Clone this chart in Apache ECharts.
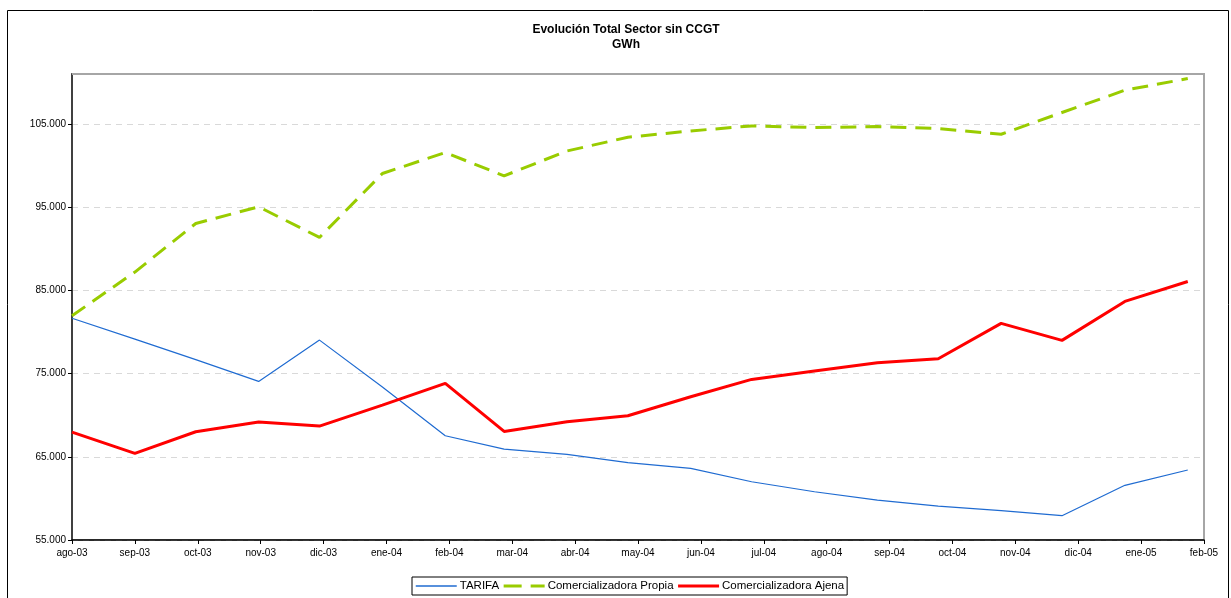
<!DOCTYPE html>
<html>
<head>
<meta charset="utf-8">
<script src="https://cdn.jsdelivr.net/npm/echarts@6/dist/echarts.min.js"></script>
<style>
html,body{margin:0;padding:0;background:#fff;}
#chart{width:1231px;height:598px;}
</style>
</head>
<body>
<div id="chart"></div>
<script>
// ---- data ----
const dates = ['2003-08-01','2003-09-01','2003-10-01','2003-11-01','2003-12-01','2004-01-01','2004-02-01','2004-03-01','2004-04-01','2004-05-01','2004-06-01','2004-07-01','2004-08-01','2004-09-01','2004-10-01','2004-11-01','2004-12-01','2005-01-01','2005-02-01'];
const tickLabels = ['ago-03','sep-03','oct-03','nov-03','dic-03','ene-04','feb-04','mar-04','abr-04','may-04','jun-04','jul-04','ago-04','sep-04','oct-04','nov-04','dic-04','ene-05','feb-05'];
const tarifa = [81650, 79140, 76680, 74060, 79020, 73380, 67530, 65930, 65290, 64290, 63610, 62000, 60800, 59800, 59080, 58520, 57920, 61570, 63410];
const propia = [81950, 87200, 93040, 95040, 91360, 99040, 101570, 98760, 101750, 103400, 104160, 104760, 104570, 104680, 104450, 103760, 106370, 109050, 110450];
const ajena  = [67970, 65410, 68010, 69170, 68690, 71200, 73820, 68050, 69210, 69930, 72210, 74300, 75300, 76300, 76780, 81030, 78990, 83670, 86070];
const seriesNames = ['TARIFA','Comercializadora Propia','Comercializadora Ajena'];
const titleText = 'Evolución Total Sector sin CCGT\nGWh';

// ---- build ----
const DAY = 86400000;
const xStep = 31 * DAY;
const xMin = Date.parse(dates[0]);
const xMax = xMin + (tickLabels.length - 1) * xStep;
const ts = dates.map(d => Date.parse(d));
const pairs = arr => arr.map((v, i) => [ts[i], v]);
const fmtThousands = v => String(v).replace(/\B(?=(\d{3})+(?!\d))/g, '.');
const FONT = '"Liberation Sans", Arial, sans-serif';

const BLUE = '#1f6bd1', GREEN = '#99cc00', RED = '#ff0000';
const GREEN_DASH = [16, 9];

const chart = echarts.init(document.getElementById('chart'), null, {renderer: 'canvas'});
chart.setOption({
  animation: false,
  backgroundColor: '#fff',
  title: {
    text: titleText,
    left: 621, top: 17, textAlign: 'center',
    textStyle: {fontFamily: FONT, fontSize: 12, fontWeight: 'bold', color: '#000', lineHeight: 15}
  },
  graphic: [
    {
      type: 'rect', silent: true, z: -1,
      shape: {x: 7.5, y: 10.5, width: 1221, height: 600},
      style: {fill: 'none', stroke: '#000', lineWidth: 1}
    },
    {
      type: 'line', silent: true, z: 100,
      shape: {x1: 72, y1: 74, x2: 1205, y2: 74},
      style: {stroke: '#a6a6a6', lineWidth: 2}
    }
  ],
  grid: {
    left: 72, right: 27, top: 74, bottom: 58,
    show: true, borderColor: '#a6a6a6', borderWidth: 2, backgroundColor: 'transparent'
  },
  legend: {
    left: 412, top: 577,
    padding: [3, 3, 3, 3],
    itemGap: 3, itemWidth: 41, itemHeight: 12,
    borderColor: '#000', borderWidth: 1,
    itemStyle: {opacity: 0},
    textStyle: {fontFamily: FONT, fontSize: 11.5, color: '#000', padding: [0, 0, 0, -2]},
    data: [
      {name: seriesNames[0], itemStyle: {opacity: 0}, lineStyle: {color: BLUE, width: 1.5, type: 'solid'}},
      {name: seriesNames[1], itemStyle: {opacity: 0}, lineStyle: {color: GREEN, width: 3, type: [18, 9]}},
      {name: seriesNames[2], itemStyle: {opacity: 0}, lineStyle: {color: RED, width: 3, type: 'solid'}}
    ]
  },
  xAxis: {
    type: 'value',
    min: xMin, max: xMax, interval: xStep,
    axisLine: {show: true, lineStyle: {color: '#000', width: 1.5}},
    axisTick: {show: true, length: 4, lineStyle: {color: '#000'}},
    splitLine: {show: false},
    axisLabel: {
      fontFamily: FONT, fontSize: 10, color: '#000', margin: 8,
      showMinLabel: true, showMaxLabel: true, hideOverlap: false,
      formatter: v => tickLabels[Math.round((v - xMin) / xStep)] || ''
    }
  },
  yAxis: {
    type: 'value',
    min: 55000, max: 111000, interval: 10000,
    axisLine: {show: true, lineStyle: {color: '#404040', width: 2}},
    axisTick: {show: true, length: 4, lineStyle: {color: '#000'}},
    splitLine: {show: true, lineStyle: {color: '#d9d9d9', width: 1.2, type: [6, 5]}},
    axisLabel: {
      fontFamily: FONT, fontSize: 10, color: '#000', margin: 6,
      showMaxLabel: false,
      formatter: v => (v > 105000 ? '' : fmtThousands(v))
    }
  },
  series: [
    {
      name: seriesNames[0], type: 'line', data: pairs(tarifa), symbol: 'none',
      lineStyle: {color: BLUE, width: 1.2}, itemStyle: {color: BLUE}, z: 3
    },
    {
      name: seriesNames[1], type: 'line', data: pairs(propia), symbol: 'none',
      lineStyle: {color: GREEN, width: 3, type: GREEN_DASH}, itemStyle: {color: GREEN}, z: 2
    },
    {
      name: seriesNames[2], type: 'line', data: pairs(ajena), symbol: 'none',
      lineStyle: {color: RED, width: 3}, itemStyle: {color: RED}, z: 4
    }
  ]
});
</script>
</body>
</html>
